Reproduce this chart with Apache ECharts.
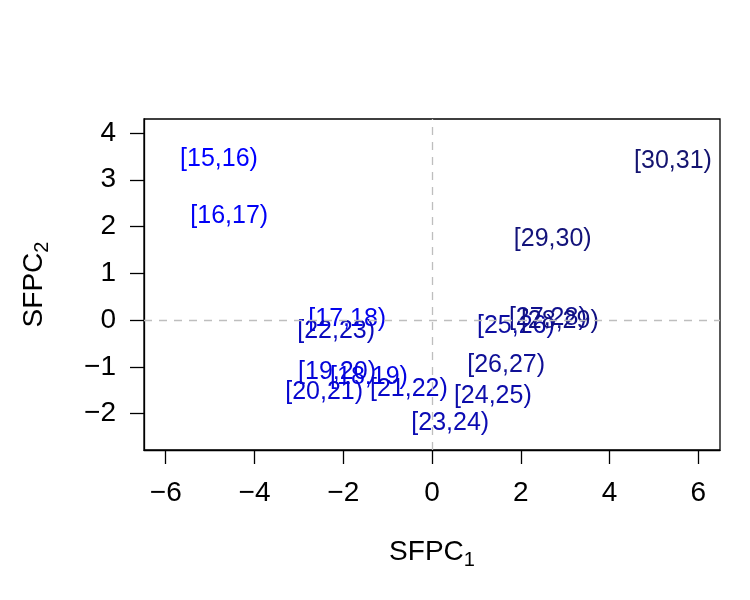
<!DOCTYPE html>
<html>
<head>
<meta charset="utf-8">
<script src="https://cdn.jsdelivr.net/npm/echarts@6/dist/echarts.min.js"></script>
<style>
  html, body { margin: 0; padding: 0; background: #fff; }
  #chart { width: 750px; height: 600px; }
</style>
</head>
<body>
<div id="chart"></div>
<script>
// age bins and their scores on the first two components
const labels = ['[15,16)', '[16,17)', '[17,18)', '[18,19)', '[19,20)', '[20,21)', '[21,22)', '[22,23)',
  '[23,24)', '[24,25)', '[25,26)', '[26,27)', '[27,28)', '[28,29)', '[29,30)', '[30,31)']
const sfpc1 = [-4.80, -4.57, -1.91, -1.42, -2.14, -2.43, -0.52, -2.16, 0.41, 1.37, 1.89, 1.67, 2.61, 2.88, 2.72, 5.43]
const sfpc2 = [3.45, 2.23, 0.02, -1.22, -1.11, -1.54, -1.48, -0.24, -2.21, -1.63, -0.13, -0.96, 0.04, -0.02, 1.73, 3.40]
const xTicks = [-6, -4, -2, 0, 2, 4, 6]
const yTicks = [-2, -1, 0, 1, 2, 3, 4]

// blue -> navy along the bins
function rampColor(t, c0, c1) {
  const a = [parseInt(c0.slice(1, 3), 16), parseInt(c0.slice(3, 5), 16), parseInt(c0.slice(5, 7), 16)]
  const b = [parseInt(c1.slice(1, 3), 16), parseInt(c1.slice(3, 5), 16), parseInt(c1.slice(5, 7), 16)]
  return '#' + a.map((v, i) => Math.round(v + (b[i] - v) * t).toString(16).padStart(2, '0')).join('')
}

const font = 'Liberation Sans, Arial, Helvetica, sans-serif'

const points = labels.map((name, i) => ({
  name: name,
  value: [sfpc1[i], sfpc2[i]],
  label: { color: rampColor(i / (labels.length - 1), '#0000ff', '#141470') }
}))

const nameRich = {
  a: { fontFamily: font, fontSize: 28, color: '#000' },
  s: { fontFamily: font, fontSize: 20, color: '#000', padding: [16, 0, 0, 0] }
}

const chart = echarts.init(document.getElementById('chart'))
chart.setOption({
  animation: false,
  backgroundColor: '#fff',
  grid: {
    left: 144, right: 30, top: 119, bottom: 150,
    show: true, borderColor: '#000', borderWidth: 1.3
  },
  xAxis: {
    type: 'value',
    min: -6.49, max: 6.49,
    name: '{a|SFPC}{s|1}',
    nameLocation: 'middle',
    nameGap: 84,
    nameTextStyle: { rich: nameRich },
    axisLine: { show: true, onZero: false, lineStyle: { color: '#000', width: 1.3 } },
    axisTick: { show: true, customValues: xTicks, length: 14, lineStyle: { color: '#000', width: 1.3 } },
    axisLabel: {
      customValues: xTicks, margin: 29, color: '#000', fontFamily: font, fontSize: 28,
      formatter: v => String(v).replace('-', '\u2212')
    },
    splitLine: { show: false }
  },
  yAxis: {
    type: 'value',
    min: -2.78, max: 4.30,
    name: '{a|SFPC}{s|2}',
    nameLocation: 'middle',
    nameGap: 92,
    nameRotate: 90,
    nameTextStyle: { rich: nameRich },
    axisLine: { show: true, onZero: false, lineStyle: { color: '#000', width: 1.3 } },
    axisTick: { show: true, customValues: yTicks, length: 14, lineStyle: { color: '#000', width: 1.3 } },
    axisLabel: {
      customValues: yTicks, margin: 28, color: '#000', fontFamily: font, fontSize: 28,
      formatter: v => String(v).replace('-', '\u2212')
    },
    splitLine: { show: false }
  },
  series: [{
    type: 'scatter',
    symbol: 'circle',
    symbolSize: 1,
    itemStyle: { color: 'rgba(0,0,0,0)', opacity: 1 },
    label: {
      show: true,
      position: 'inside',
      formatter: p => p.name,
      fontFamily: font,
      fontSize: 25
    },
    labelLayout: { hideOverlap: false },
    data: points,
    markLine: {
      silent: true,
      symbol: 'none',
      label: { show: false },
      lineStyle: { color: '#bebebe', type: [8, 7], width: 1.3 },
      data: [{ xAxis: 0 }, { yAxis: 0 }]
    },
    z: 3
  }]
})
</script>
</body>
</html>
